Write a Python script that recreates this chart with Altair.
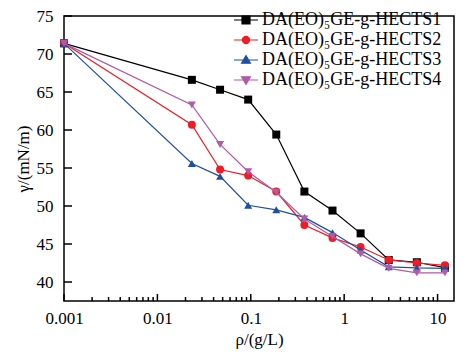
import altair as alt
import pandas as pd

# ---- data ----
x_vals = [0.001, 0.0234, 0.0469, 0.0938, 0.1875, 0.375, 0.75, 1.5, 3, 6, 12]
s1 = [71.4, 66.6, 65.3, 64.0, 59.4, 51.9, 49.4, 46.4, 42.9, 42.6, 41.9]
s2 = [71.4, 60.7, 54.8, 54.0, 51.9, 47.5, 45.8, 44.6, 42.9, 42.5, 42.2]
s3 = [71.4, 55.6, 53.9, 50.1, 49.5, 48.5, 46.5, 44.2, 42.0, 41.85, 41.8]
s4 = [71.4, 63.3, 58.1, 54.5, 51.8, 48.3, 46.0, 43.7, 41.8, 41.2, 41.2]

names = ["DA(EO)₅GE-g-HECTS1", "DA(EO)₅GE-g-HECTS2",
         "DA(EO)₅GE-g-HECTS3", "DA(EO)₅GE-g-HECTS4"]
colors = ["#000000", "#ee1c25", "#1f4fa3", "#b05aa8"]
shapes = ["square", "circle", "triangle-up", "triangle-down"]
legend_paths = [
    "M-1.5,0L1.5,0M-0.5,-0.5L0.5,-0.5L0.5,0.5L-0.5,0.5Z",
    "M-1.5,0L1.5,0M-0.45,0A0.45,0.45,0,1,0,0.45,0A0.45,0.45,0,1,0,-0.45,0Z",
    "M-1.5,0L1.5,0M0,-0.55L0.55,0.4L-0.55,0.4Z",
    "M-1.5,0L1.5,0M0,0.55L0.55,-0.4L-0.55,-0.4Z",
]

x_major = [0.001, 0.01, 0.1, 1, 10]
x_minor = [m * d for d in [0.001, 0.01, 0.1, 1] for m in range(2, 10)]
y_ticks = [40, 45, 50, 55, 60, 65, 70, 75]
x_domain = [0.001, 15]
y_domain = [37.5, 75]

rows = []
for name, ser in zip(names, [s1, s2, s3, s4]):
    for xv, yv in zip(x_vals, ser):
        rows.append({"x": xv, "y": yv, "series": name})
df = pd.DataFrame(rows)

W, H = 390, 285
FONT = "Liberation Serif"

xs = alt.Scale(type="log", domain=x_domain, nice=False, padding=0)
ys = alt.Scale(domain=y_domain, nice=False, zero=False, padding=0)

x_axis = alt.Axis(orient="bottom", values=x_major, format="~g", ticks=False, domain=False,
                  grid=False, labelPadding=9, labelFlush=False, title="ρ/(g/L)", titlePadding=5)
y_axis = alt.Axis(orient="left", values=y_ticks, ticks=False, domain=False, grid=False,
                  labelPadding=11, labelFlush=False, title="γ/(mN/m)", titlePadding=4)

X = lambda f: alt.X(f, scale=xs, axis=x_axis)
Y = lambda f: alt.Y(f, scale=ys, axis=y_axis)

# inward tick marks drawn from the tick arrays through the scales
maj_df = pd.DataFrame({"t": x_major})
min_df = pd.DataFrame({"t": x_minor})
yt_df = pd.DataFrame({"t": y_ticks})
xmaj = alt.Chart(maj_df).mark_rule(color="black", strokeWidth=1.5).encode(
    x=X("t:Q"), y=alt.value(H), y2=alt.value(H - 7))
xmin = alt.Chart(min_df).mark_rule(color="black", strokeWidth=1.5).encode(
    x=X("t:Q"), y=alt.value(H), y2=alt.value(H - 4))
ytk = alt.Chart(yt_df).mark_tick(color="black", thickness=1.5, size=8, orient="horizontal",
                                 opacity=1).encode(y=Y("t:Q"), x=alt.value(4))

layers = [xmaj, xmin, ytk]
for name, col, shp in zip(names, colors, shapes):
    sub = df[df["series"] == name]
    layers.append(alt.Chart(sub).mark_line(color=col, strokeWidth=1.2).encode(
        x=X("x:Q"), y=Y("y:Q")))
    layers.append(alt.Chart(sub).mark_point(shape=shp, filled=True, color=col, size=64,
                                            opacity=1).encode(x=X("x:Q"), y=Y("y:Q")))

leg = alt.Legend(title=None, orient="none", legendX=173, legendY=-5, labelFont=FONT,
                 labelFontSize=18, labelColor="black", labelLimit=0, symbolSize=256,
                 symbolStrokeWidth=1.2, labelOffset=7, rowPadding=2, padding=0)

legend_layer = alt.Chart(df).transform_filter("false").mark_point(
    filled=True, size=256, strokeWidth=1.2, opacity=1).encode(
    x=X("x:Q"), y=Y("y:Q"),
    fill=alt.Fill("series:N", scale=alt.Scale(domain=names, range=colors), legend=leg),
    stroke=alt.Stroke("series:N", scale=alt.Scale(domain=names, range=colors), legend=leg),
    shape=alt.Shape("series:N", scale=alt.Scale(domain=names, range=legend_paths), legend=leg),
)
layers.append(legend_layer)

chart = alt.layer(*layers).properties(
    width=W, height=H,
    autosize=alt.AutoSizeParams(type="none"),
    padding={"left": 56, "top": 8, "right": 7, "bottom": 48},
).configure_view(
    stroke="black", strokeWidth=1.5
).configure_axis(
    labelFont=FONT, labelFontSize=17, labelColor="black",
    titleFont=FONT, titleFontSize=17, titleFontWeight="normal", titleColor="black",
)

chart.save("out.html", embed_options={"renderer": "svg", "actions": False})
